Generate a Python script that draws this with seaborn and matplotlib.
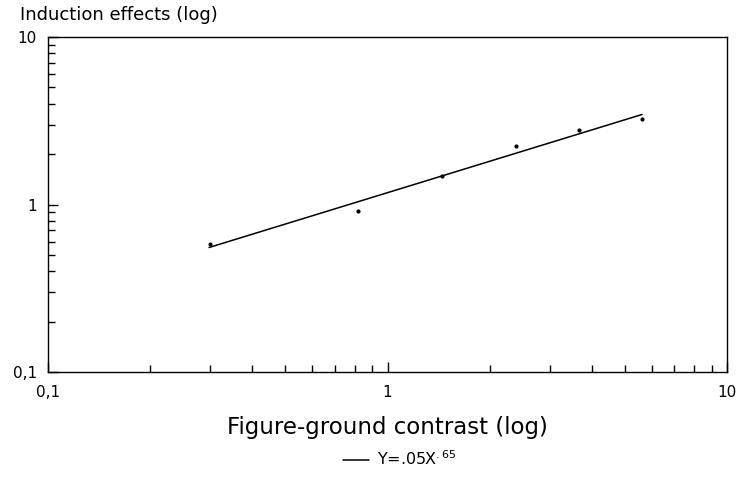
"""Log-log plot: induction effects vs figure-ground contrast."""

import matplotlib
matplotlib.use("Agg")
import matplotlib.pyplot as plt
from matplotlib.ticker import LogLocator, FuncFormatter, NullFormatter
import pandas as pd
import seaborn as sns

contrast = [0.30, 0.82, 1.45, 2.39, 3.66, 5.62]
induction = [0.585, 0.92, 1.49, 2.25, 2.80, 3.22]

# Fitted line end points
fit_x = [0.298, 5.62]
fit_y = [0.554, 3.45]

x_ticks = [0.1, 1, 10]
y_ticks = [0.1, 1, 10]

sns.set_style("ticks")
plt.rcParams["font.family"] = ["DejaVu Sans"]
plt.rcParams["mathtext.default"] = "regular"
plt.rcParams["text.color"] = "black"
plt.rcParams["axes.labelcolor"] = "black"

points = pd.DataFrame({"contrast": contrast, "induction": induction})
fit = pd.DataFrame({"contrast": fit_x, "induction": fit_y})

fig = plt.figure(figsize=(7.47, 4.84), dpi=100)
ax = fig.add_axes([0.0643, 0.2314, 0.909, 0.692])

sns.lineplot(data=fit, x="contrast", y="induction", ax=ax, color="black",
             linewidth=1.1, label=r"Y=.05X$^{.65}$")
sns.scatterplot(data=points, x="contrast", y="induction", ax=ax, color="black",
                s=9, edgecolor="black", linewidth=0, legend=False)

ax.set_xscale("log")
ax.set_yscale("log")
ax.set_xlim(0.1, 10)
ax.set_ylim(0.1, 10)

comma = FuncFormatter(lambda v, pos: f"{v:g}".replace(".", ","))
for axis, ticks in ((ax.xaxis, x_ticks), (ax.yaxis, y_ticks)):
    axis.set_major_locator(plt.FixedLocator(ticks))
    axis.set_major_formatter(comma)
    axis.set_minor_locator(LogLocator(base=10, subs=range(2, 10)))
    axis.set_minor_formatter(NullFormatter())

ax.tick_params(which="major", direction="in", length=7, width=1, labelsize=11,
               color="black", labelcolor="black")
ax.tick_params(which="minor", direction="in", length=5, width=1, color="black")
ax.tick_params(axis="x", which="major", pad=9)
ax.tick_params(axis="y", which="major", pad=8)

for spine in ax.spines.values():
    spine.set_visible(True)
    spine.set_color("black")
    spine.set_linewidth(1)

ax.set_xlabel("Figure-ground contrast (log)", fontsize=16.5, labelpad=12)
ax.set_ylabel("")
fig.text(0.027, 1 - 15 / 484, "Induction effects (log)", fontsize=13,
         ha="left", va="center")

ax.legend(loc="center", bbox_to_anchor=(0.518, -0.26), frameon=False,
          fontsize=11.5, handlelength=1.6, handletextpad=0.5)

plt.savefig("out.png", dpi=100)
plt.close()
